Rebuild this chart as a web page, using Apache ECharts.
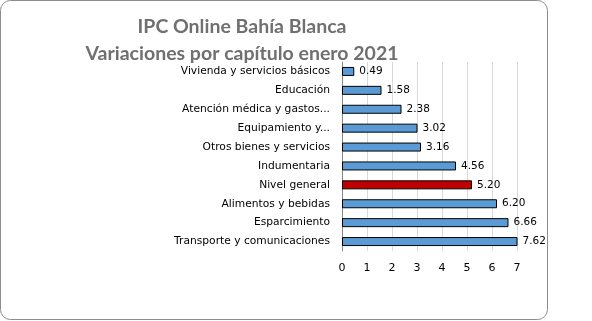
<!DOCTYPE html>
<html><head><meta charset="utf-8">
<script src="https://cdn.jsdelivr.net/npm/echarts@6/dist/echarts.min.js"></script>
<style>html,body{margin:0;padding:0;background:#fff}#c{width:592px;height:321px}</style>
</head><body><div id="c"></div>
<script>
const categories = ["Vivienda y servicios básicos","Educación","Atención médica y gastos...","Equipamiento y...","Otros bienes y servicios","Indumentaria","Nivel general","Alimentos y bebidas","Esparcimiento","Transporte y comunicaciones"];
const values = [0.49,1.58,2.38,3.02,3.16,4.56,5.20,6.20,6.66,7.62];
const highlight = "Nivel general";
const xTicks = [0,1,2,3,4,5,6,7];
const titleText = "IPC Online Bahía Blanca\nVariaciones por capítulo enero 2021";

const chart = echarts.init(document.getElementById('c'), null, {renderer:'canvas'});
chart.setOption({
  animation:false,
  backgroundColor:'#fff',
  graphic:[{type:'rect',shape:{x:0.5,y:0.5,width:547,height:319,r:10},style:{fill:'none',stroke:'#8c8c8c',lineWidth:1},z:-1}],
  title:{text:titleText,left:237,top:8,textAlign:'center',
    textStyle:{fontFamily:'Lato',fontWeight:'bold',fontSize:19.5,color:'#707070',lineHeight:27}},
  grid:{left:342,right:75,top:62,bottom:70,containLabel:false},
  xAxis:{type:'value',min:xTicks[0],max:xTicks[xTicks.length-1],interval:1,
    axisLine:{show:false},axisTick:{show:false},
    splitLine:{lineStyle:{color:'#d9d9d9',width:1}},
    axisLabel:{fontFamily:'DejaVu Sans',fontSize:11,color:'#000',margin:12}},
  yAxis:{type:'category',data:categories,inverse:true,
    axisLine:{show:true,lineStyle:{color:'#868686'}},axisTick:{show:false},
    axisLabel:{fontFamily:'DejaVu Sans',fontSize:10.7,color:'#000',margin:12}},
  series:[{type:'bar',barWidth:9,clip:true,
    data:values.map((v,i)=>({value:v,itemStyle:{color:categories[i]===highlight?'#c00000':'#5b9bd5'}})),
    itemStyle:{borderColor:'#000',borderWidth:1},
    label:{show:true,position:'right',distance:5,formatter:p=>p.value.toFixed(2),
      fontFamily:'DejaVu Sans',fontSize:10.5,color:'#000'}}]
});
</script></body></html>
